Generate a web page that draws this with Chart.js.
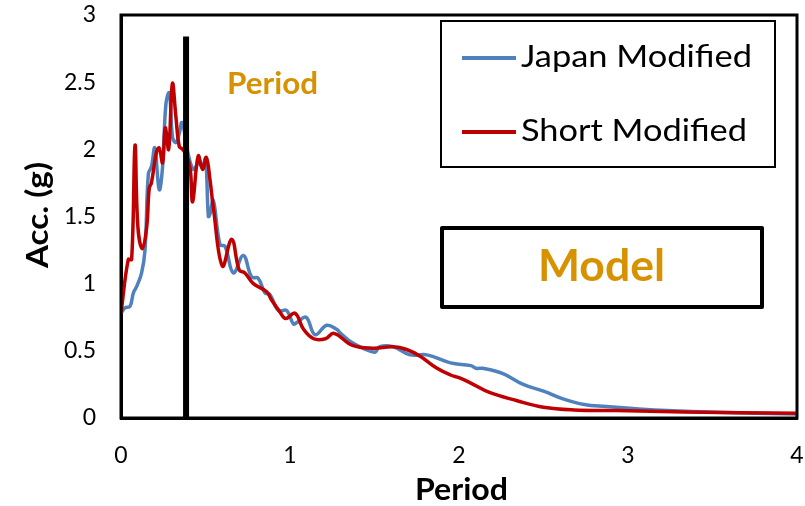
<!DOCTYPE html>
<html>
<head>
<meta charset="utf-8">
<script src="https://cdn.jsdelivr.net/npm/chart.js@4"></script>
<style>
html,body{margin:0;padding:0;background:#fff;}
#wrap{width:805px;height:506px;}
</style>
</head>
<body>
<div id="wrap"><canvas id="c" width="805" height="506"></canvas></div>
<script>
// ---- data ----
const japanPeriod = [0,0.024,0.053,0.073,0.093,0.122,0.142,0.162,0.18,0.20,0.226,0.246,0.266,0.286,0.305,0.325,0.345,0.36,0.38,0.40,0.43,0.46,0.48,0.50,0.517,0.527,0.546,0.586,0.615,0.665,0.724,0.773,0.812,0.852,0.88,0.931,0.98,1.02,1.04,1.095,1.148,1.217,1.276,1.30,1.37,1.50,1.53,1.61,1.71,1.81,1.95,2.07,2.10,2.14,2.26,2.38,2.50,2.62,2.74,2.87,3.03,3.23,3.52,4.0];
const japanAcc    = [0.78,0.82,0.83,0.93,0.98,1.08,1.25,1.82,1.87,2.01,1.70,1.87,2.34,2.42,2.09,2.05,2.12,2.20,2.10,1.95,1.85,1.90,1.87,1.93,1.50,1.52,1.62,1.29,1.28,1.08,1.21,1.05,1.04,0.93,0.92,0.80,0.80,0.70,0.71,0.75,0.62,0.69,0.66,0.63,0.56,0.49,0.53,0.53,0.47,0.47,0.41,0.39,0.37,0.37,0.33,0.25,0.20,0.14,0.10,0.085,0.07,0.055,0.042,0.03];
const shortPeriod = [0,0.043,0.063,0.083,0.10,0.126,0.152,0.167,0.18,0.21,0.226,0.246,0.262,0.282,0.304,0.325,0.345,0.365,0.39,0.41,0.424,0.457,0.483,0.505,0.527,0.546,0.60,0.655,0.70,0.733,0.783,0.862,0.89,0.94,0.975,1.03,1.08,1.14,1.21,1.26,1.37,1.49,1.61,1.69,1.77,1.87,1.95,2.0,2.07,2.18,2.34,2.50,2.68,2.93,3.33,4.0];
const shortAcc    = [0.78,1.18,1.18,2.03,1.42,1.26,1.42,1.71,1.75,1.98,2.01,1.90,2.16,2.00,2.49,2.24,2.02,2.00,1.95,1.85,1.61,1.95,1.85,1.94,1.77,1.57,1.13,1.33,1.10,1.08,1.00,0.94,0.88,0.79,0.74,0.78,0.66,0.59,0.59,0.63,0.54,0.52,0.53,0.51,0.46,0.37,0.32,0.30,0.26,0.19,0.13,0.08,0.06,0.055,0.045,0.035];
const markerPeriod = [0.385,0.385];
const markerAcc = [0,2.84];
const seriesNames = ['Japan Modified','Short Modified'];
const xTicks = [0,1,2,3,4];
const yTicks = [0,0.5,1,1.5,2,2.5,3];

const BLUE = '#4F81BD', RED = '#C00000', ORANGE = '#D69200';
const FONT = 'Lato, "Open Sans", sans-serif';

function pts(xs, ys){ return xs.map((x,i)=>({x:x,y:ys[i]})); }

// draw text centred (or left-aligned) at a point, stretched horizontally to a target width
function fitText(ctx, text, x, y, font, width, align){
  ctx.save();
  ctx.font = font;
  ctx.textBaseline = 'middle';
  ctx.textAlign = align || 'center';
  const w = ctx.measureText(text).width;
  const s = width / w;
  ctx.translate(x, y);
  ctx.scale(s, 1);
  ctx.fillText(text, 0, 0);
  ctx.restore();
}

const overlay = {
  id:'overlay',
  afterDraw(chart){
    const ctx = chart.ctx, a = chart.chartArea;
    ctx.save();
    // plot frame
    ctx.strokeStyle = '#000'; ctx.lineWidth = 3;
    ctx.strokeRect(a.left, a.top, a.right - a.left, a.bottom - a.top);
    // axis titles
    ctx.fillStyle = '#000';
    fitText(ctx, 'Period', 461.5, 490, 'bold 30px ' + FONT, 93);
    ctx.save();
    ctx.translate(38, 215); ctx.rotate(-Math.PI/2);
    fitText(ctx, 'Acc. (g)', 0, 0, 'bold 30px ' + FONT, 106);
    ctx.restore();
    // "Period" annotation
    ctx.fillStyle = ORANGE;
    fitText(ctx, 'Period', 272.5, 84, 'bold 30px ' + FONT, 91);
    // Model box
    ctx.strokeStyle = '#000'; ctx.lineWidth = 4; ctx.lineJoin = 'round';
    ctx.fillStyle = '#fff';
    ctx.fillRect(442, 228, 320, 79);
    ctx.strokeRect(442, 228, 320, 79);
    ctx.fillStyle = ORANGE;
    fitText(ctx, 'Model', 601.5, 267, 'bold 43px ' + FONT, 127);
    // Legend
    ctx.fillStyle = '#fff';
    ctx.fillRect(441, 21, 334, 146);
    ctx.lineWidth = 2; ctx.lineJoin = 'miter';
    ctx.strokeRect(441, 21, 334, 146);
    const cols = [BLUE, RED], ys = [57, 131], ws = [231, 226];
    for (let i=0;i<2;i++){
      ctx.strokeStyle = cols[i]; ctx.lineWidth = 4;
      ctx.beginPath(); ctx.moveTo(462, ys[i]+1); ctx.lineTo(516, ys[i]+1); ctx.stroke();
      ctx.fillStyle = '#000';
      fitText(ctx, seriesNames[i], 521, ys[i], '30px ' + FONT, ws[i], 'left');
    }
    ctx.restore();
  }
};

new Chart(document.getElementById('c'), {
  type: 'scatter',
  data: {
    datasets: [
      { label:'marker', data: pts(markerPeriod, markerAcc), showLine:true, borderColor:'#000', borderWidth:6, pointRadius:0, order:0, borderCapStyle:'butt' },
      { label: seriesNames[1], data: pts(shortPeriod, shortAcc), showLine:true, borderColor:RED, borderWidth:3.5, pointRadius:0, tension:0.4, order:1 },
      { label: seriesNames[0], data: pts(japanPeriod, japanAcc), showLine:true, borderColor:BLUE, borderWidth:3.5, pointRadius:0, tension:0.4, order:2 }
    ]
  },
  options: {
    responsive:false, animation:false, devicePixelRatio:1,
    layout:{ padding:{ left:0, top:15, right:8, bottom:0 } },
    plugins:{ legend:{display:false}, tooltip:{enabled:false} },
    scales:{
      x:{
        type:'linear', min:0, max:4,
        afterFit(s){ s.height = 88; s.paddingLeft = 0; s.paddingRight = 0; },
        afterBuildTicks(s){ s.ticks = xTicks.map(v=>({value:v})); },
        grid:{ display:false, drawTicks:false },
        border:{ display:true, color:'#000', width:3 },
        ticks:{ color:'#000', font:{ family:FONT, size:23 }, padding:24, maxRotation:0, callback:(v)=>String(v) }
      },
      y:{
        type:'linear', min:0, max:3,
        afterFit(s){ s.width = 121; s.paddingTop = 0; s.paddingBottom = 0; },
        afterBuildTicks(s){ s.ticks = yTicks.map(v=>({value:v})); },
        grid:{ display:false, drawTicks:false },
        border:{ display:true, color:'#000', width:3 },
        ticks:{ color:'#000', font:{ family:FONT, size:23 }, padding:25, callback:(v)=>String(v) }
      }
    }
  },
  plugins:[overlay]
});
</script>
</body>
</html>
